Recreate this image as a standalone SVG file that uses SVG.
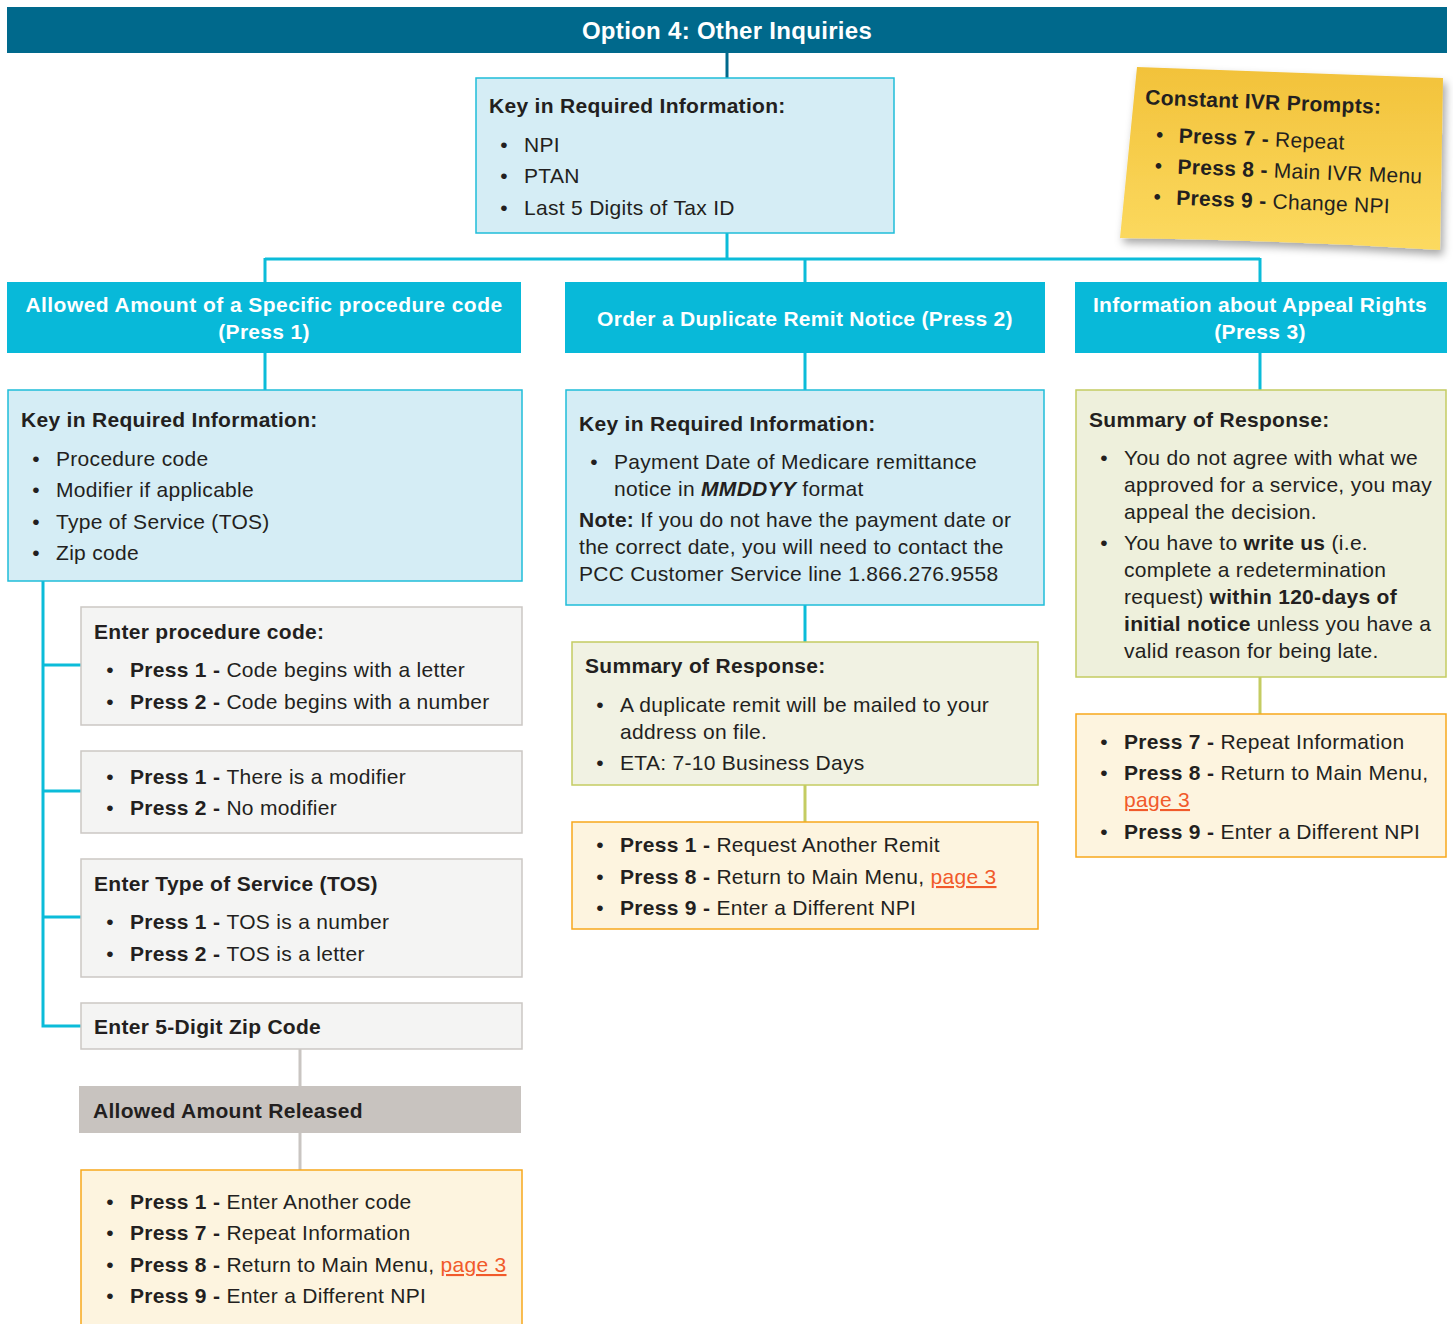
<svg xmlns="http://www.w3.org/2000/svg" width="1453" height="1324" viewBox="0 0 1453 1324">
<defs>
<style>
text{font-family:"Liberation Sans",Arial,sans-serif;font-size:21px;fill:#231f20;letter-spacing:0.3px}
.b{font-weight:bold}
.hd{font-weight:bold;fill:#ffffff;text-anchor:middle}
.bul{text-anchor:middle}
.link{fill:#f15a2b;text-decoration:underline}
.key{fill:#d5edf5;stroke:#1fbdd9;stroke-width:1.5}
.gray{fill:#f4f4f3;stroke:#cbc7c4;stroke-width:1.5}
.sum{fill:#f1f2e3;stroke:#c4cc62;stroke-width:1.5}
.yel{fill:#fdf4df;stroke:#f7a81c;stroke-width:1.5}
.hbar{fill:#08b9d9}
.cc{stroke:#0bbcd9;stroke-width:3;fill:none}
.cg{stroke:#c9c5c2;stroke-width:3;fill:none}
.co{stroke:#c4cc62;stroke-width:3;fill:none}
.cd{stroke:#00698c;stroke-width:3;fill:none}
</style>
<linearGradient id="note" x1="0" y1="0" x2="0" y2="1">
<stop offset="0" stop-color="#f2c23a"/>
<stop offset="1" stop-color="#fcda60"/>
</linearGradient>
<filter id="sh" x="-10%" y="-10%" width="125%" height="130%">
<feDropShadow dx="3" dy="5" stdDeviation="4" flood-color="#000" flood-opacity="0.35"/>
</filter>
</defs>

<g id="connectors">
<path class="cd" d="M727 53V78"/>
<path class="cc" d="M727 233V259M265 259H1260M265 258V282M805 258V282M1260 258V282"/>
<path class="cc" d="M265 353V390M805 353V390M1260 353V390"/>
<path class="cc" d="M43 581V1026H81M43 665H81M43 791H81M43 917H81"/>
<path class="cg" d="M300 1049V1086M300 1133V1170"/>
<path class="cc" d="M805 605V642"/>
<path class="co" d="M805 785V822M1260 677V714"/>
</g>

<g id="header">
<rect x="7" y="7" width="1440" height="46" fill="#00698c"/>
<text class="hd" x="727" y="39" style="font-size:24px">Option 4: Other Inquiries</text>
</g>

<g id="top-key">
<rect class="key" x="476" y="78" width="418" height="155"/>
<text class="b" x="489" y="113">Key in Required Information:</text>
<text class="bul" x="504" y="152">•</text><text x="524" y="152">NPI</text>
<text class="bul" x="504" y="183">•</text><text x="524" y="183">PTAN</text>
<text class="bul" x="504" y="215">•</text><text x="524" y="215">Last 5 Digits of Tax ID</text>
</g>

<g id="sticky-note">
<path d="M1137 67L1443 78L1440 250Q1280 240 1120 238Z" fill="url(#note)" filter="url(#sh)"/>
<g transform="rotate(2.3 1285 157)">
<text class="b" x="1143" y="110">Constant IVR Prompts:</text>
<text class="bul" x="1159" y="147">•</text><text x="1178" y="147"><tspan class="b">Press 7 - </tspan>Repeat</text>
<text class="bul" x="1159" y="178">•</text><text x="1178" y="178"><tspan class="b">Press 8 - </tspan>Main IVR Menu</text>
<text class="bul" x="1159" y="209">•</text><text x="1178" y="209"><tspan class="b">Press 9 - </tspan>Change NPI</text>
</g>
</g>

<g id="col1-header">
<rect class="hbar" x="7" y="282" width="514" height="71"/>
<text class="hd" x="264" y="312" style="letter-spacing:0.45px">Allowed Amount of a Specific procedure code</text>
<text class="hd" x="264" y="339">(Press 1)</text>
</g>

<g id="col2-header">
<rect class="hbar" x="565" y="282" width="480" height="71"/>
<text class="hd" x="805" y="326">Order a Duplicate Remit Notice (Press 2)</text>
</g>

<g id="col3-header">
<rect class="hbar" x="1075" y="282" width="372" height="71"/>
<text class="hd" x="1260" y="312">Information about Appeal Rights</text>
<text class="hd" x="1260" y="339">(Press 3)</text>
</g>

<g id="col1-key">
<rect class="key" x="8" y="390" width="514" height="191"/>
<text class="b" x="21" y="427">Key in Required Information:</text>
<text class="bul" x="36" y="466">•</text><text x="56" y="466">Procedure code</text>
<text class="bul" x="36" y="497">•</text><text x="56" y="497">Modifier if applicable</text>
<text class="bul" x="36" y="529">•</text><text x="56" y="529">Type of Service (TOS)</text>
<text class="bul" x="36" y="560">•</text><text x="56" y="560">Zip code</text>
</g>

<g id="enter-procedure">
<rect class="gray" x="81" y="607" width="441" height="118"/>
<text class="b" x="94" y="639">Enter procedure code:</text>
<text class="bul" x="110" y="677">•</text><text x="130" y="677"><tspan class="b">Press 1 - </tspan>Code begins with a letter</text>
<text class="bul" x="110" y="709">•</text><text x="130" y="709"><tspan class="b">Press 2 - </tspan>Code begins with a number</text>
</g>

<g id="modifier">
<rect class="gray" x="81" y="751" width="441" height="82"/>
<text class="bul" x="110" y="784">•</text><text x="130" y="784"><tspan class="b">Press 1 - </tspan>There is a modifier</text>
<text class="bul" x="110" y="815">•</text><text x="130" y="815"><tspan class="b">Press 2 - </tspan>No modifier</text>
</g>

<g id="enter-tos">
<rect class="gray" x="81" y="859" width="441" height="118"/>
<text class="b" x="94" y="891">Enter Type of Service (TOS)</text>
<text class="bul" x="110" y="929">•</text><text x="130" y="929"><tspan class="b">Press 1 - </tspan>TOS is a number</text>
<text class="bul" x="110" y="961">•</text><text x="130" y="961"><tspan class="b">Press 2 - </tspan>TOS is a letter</text>
</g>

<g id="enter-zip">
<rect class="gray" x="81" y="1003" width="441" height="46"/>
<text class="b" x="94" y="1034">Enter 5-Digit Zip Code</text>
</g>

<g id="released">
<rect x="79" y="1086" width="442" height="47" fill="#c8c3bf"/>
<text class="b" x="93" y="1118">Allowed Amount Released</text>
</g>

<g id="col1-options">
<rect class="yel" x="81" y="1170" width="441" height="160"/>
<text class="bul" x="110" y="1209">•</text><text x="130" y="1209"><tspan class="b">Press 1 - </tspan>Enter Another code</text>
<text class="bul" x="110" y="1240">•</text><text x="130" y="1240"><tspan class="b">Press 7 - </tspan>Repeat Information</text>
<text class="bul" x="110" y="1272">•</text><text x="130" y="1272"><tspan class="b">Press 8 - </tspan>Return to Main Menu, <tspan class="link">page 3</tspan></text>
<text class="bul" x="110" y="1303">•</text><text x="130" y="1303"><tspan class="b">Press 9 - </tspan>Enter a Different NPI</text>
</g>

<g id="col2-key">
<rect class="key" x="566" y="390" width="478" height="215"/>
<text class="b" x="579" y="431">Key in Required Information:</text>
<text class="bul" x="594" y="469">•</text><text x="614" y="469">Payment Date of Medicare remittance</text>
<text x="614" y="496">notice in <tspan font-weight="bold" font-style="italic">MMDDYY</tspan> format</text>
<text x="579" y="527"><tspan class="b">Note:</tspan> If you do not have the payment date or</text>
<text x="579" y="554">the correct date, you will need to contact the</text>
<text x="579" y="581">PCC Customer Service line 1.866.276.9558</text>
</g>

<g id="col2-summary">
<rect class="sum" x="572" y="642" width="466" height="143"/>
<text class="b" x="585" y="673">Summary of Response:</text>
<text class="bul" x="600" y="712">•</text><text x="620" y="712">A duplicate remit will be mailed to your</text>
<text x="620" y="739">address on file.</text>
<text class="bul" x="600" y="770">•</text><text x="620" y="770">ETA: 7-10 Business Days</text>
</g>

<g id="col2-options">
<rect class="yel" x="572" y="822" width="466" height="107"/>
<text class="bul" x="600" y="852">•</text><text x="620" y="852"><tspan class="b">Press 1 - </tspan>Request Another Remit</text>
<text class="bul" x="600" y="884">•</text><text x="620" y="884"><tspan class="b">Press 8 - </tspan>Return to Main Menu, <tspan class="link">page 3</tspan></text>
<text class="bul" x="600" y="915">•</text><text x="620" y="915"><tspan class="b">Press 9 - </tspan>Enter a Different NPI</text>
</g>

<g id="col3-summary">
<rect x="1076" y="390" width="370" height="287" fill="#eef0dc" stroke="#c4cc62" stroke-width="1.5"/>
<text class="b" x="1089" y="427">Summary of Response:</text>
<text class="bul" x="1104" y="465">•</text><text x="1124" y="465">You do not agree with what we</text>
<text x="1124" y="492">approved for a service, you may</text>
<text x="1124" y="519">appeal the decision.</text>
<text class="bul" x="1104" y="550">•</text><text x="1124" y="550">You have to <tspan class="b">write us</tspan> (i.e.</text>
<text x="1124" y="577">complete a redetermination</text>
<text x="1124" y="604">request) <tspan class="b">within 120-days of</tspan></text>
<text x="1124" y="631"><tspan class="b">initial notice</tspan> unless you have a</text>
<text x="1124" y="658">valid reason for being late.</text>
</g>

<g id="col3-options">
<rect class="yel" x="1076" y="714" width="370" height="143"/>
<text class="bul" x="1104" y="749">•</text><text x="1124" y="749"><tspan class="b">Press 7 - </tspan>Repeat Information</text>
<text class="bul" x="1104" y="780">•</text><text x="1124" y="780"><tspan class="b">Press 8 - </tspan>Return to Main Menu,</text>
<text x="1124" y="807" class="link">page 3</text>
<text class="bul" x="1104" y="839">•</text><text x="1124" y="839"><tspan class="b">Press 9 - </tspan>Enter a Different NPI</text>
</g>
</svg>
